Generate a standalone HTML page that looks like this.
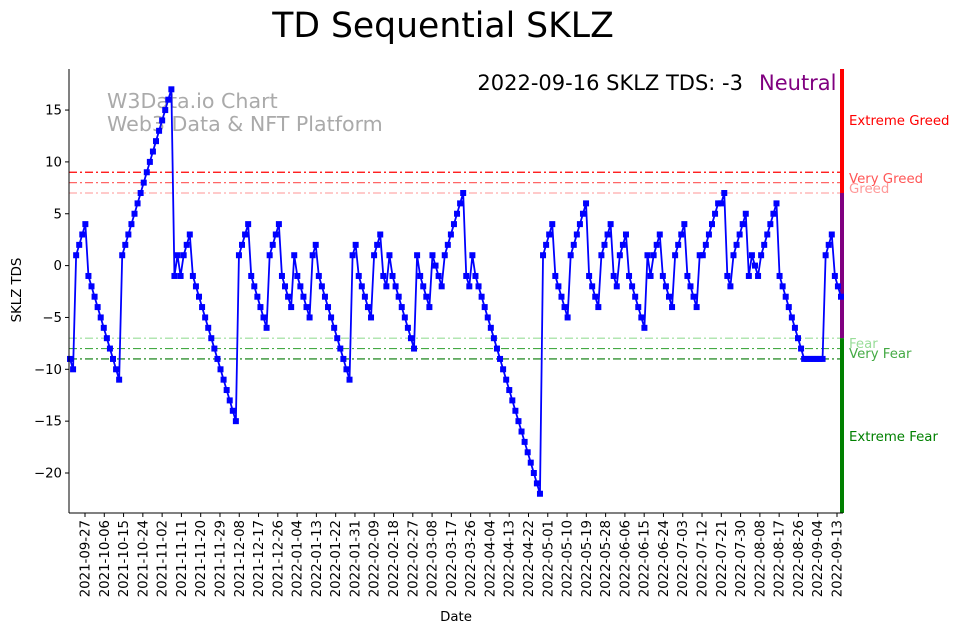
<!DOCTYPE html>
<html><head><meta charset="utf-8"><style>
html,body{margin:0;padding:0;background:#fff;}
svg{display:block;font-family:"DejaVu Sans","Liberation Sans",sans-serif;}
</style></head><body>
<svg id="chart" width="962" height="633" viewBox="0 0 962 633" xmlns="http://www.w3.org/2000/svg">
<text x="443" y="37" font-size="34.6" text-anchor="middle" fill="#000">TD Sequential SKLZ</text>
<text x="107" y="108" font-size="20.6" fill="#aaa">W3Data.io Chart</text>
<text x="107" y="131" font-size="20.6" fill="#aaa">Web3 Data &amp; NFT Platform</text>
<text x="743" y="90" font-size="21" text-anchor="end" fill="#000">2022-09-16 SKLZ TDS: -3</text>
<text x="759" y="90" font-size="21" fill="#800080">Neutral</text>
<g id="levels"></g>
<g id="series"></g>
<g id="axes"></g>
<text x="456" y="621" font-size="13.3" text-anchor="middle">Date</text>
<text transform="translate(21,290) rotate(-90)" font-size="13.3" text-anchor="middle">SKLZ TDS</text>
</svg>
<script>
const values = [-9,-10,1,2,3,4,
-1,-2,-3,-4,-5,-6,-7,-8,-9,-10,-11,
1,2,3,4,5,6,7,8,9,10,11,12,13,14,15,16,17,
-1,1,-1,1,2,3,
-1,-2,-3,-4,-5,-6,-7,-8,-9,-10,-11,-12,-13,-14,-15,
1,2,3,4,-1,-2,-3,-4,-5,-6,1,2,3,4,-1,-2,-3,-4,1,-1,-2,-3,-4,-5,1,2,
-1,-2,-3,-4,-5,-6,-7,-8,-9,-10,-11,1,2,-1,-2,-3,-4,-5,1,2,3,-1,-2,1,
-1,-2,-3,-4,-5,-6,-7,-8,1,-1,-2,-3,-4,1,0,-1,-2,1,2,3,4,5,6,7,-1,-2,1,
-1,-2,-3,-4,-5,-6,-7,-8,-9,-10,-11,-12,-13,-14,-15,-16,-17,-18,-19,-20,-21,-22,
1,2,3,4,-1,-2,-3,-4,-5,1,2,3,4,5,6,-1,-2,-3,-4,1,2,3,4,-1,-2,1,2,3,
-1,-2,-3,-4,-5,-6,1,-1,1,2,3,-1,-2,-3,-4,1,2,3,4,-1,-2,-3,-4,1,1,2,3,4,5,6,6,7,
-1,-2,1,2,3,4,5,-1,1,0,-1,1,2,3,4,5,6,
-1,-2,-3,-4,-5,-6,-7,-8,-9,-9,-9,-9,-9,-9,-9,1,2,3,-1,-2,-3];
const yTicks = [15,10,5,0,-5,-10,-15,-20];
const xTickLabels = ["2021-09-27","2021-10-06","2021-10-15","2021-10-24","2021-11-02","2021-11-11","2021-11-20","2021-11-29","2021-12-08","2021-12-17","2021-12-26","2022-01-04","2022-01-13","2022-01-22","2022-01-31","2022-02-09","2022-02-18","2022-02-27","2022-03-08","2022-03-17","2022-03-26","2022-04-04","2022-04-13","2022-04-22","2022-05-01","2022-05-10","2022-05-19","2022-05-28","2022-06-06","2022-06-15","2022-06-24","2022-07-03","2022-07-12","2022-07-21","2022-07-30","2022-08-08","2022-08-17","2022-08-26","2022-09-04","2022-09-13"];
const levelValues = [9,8,7,-7,-8,-9];
const levelColors = ["#ff0000","#ff6666","#ffaaaa","#99dd99","#44aa44","#007700"];

const NS="http://www.w3.org/2000/svg";
const L=69,R=843,T=69,B=513;
const y=v=>265.6-v*10.37;
const x=i=>70+i*(841-70)/(values.length-1);
const tx=k=>85+k*(752/(xTickLabels.length-1));
function mk(tag,attrs,parent){const e=document.createElementNS(NS,tag);for(const k in attrs)e.setAttribute(k,attrs[k]);parent.appendChild(e);return e;}
const lev=document.getElementById('levels'),ser=document.getElementById('series'),ax=document.getElementById('axes');

levelValues.forEach((v,i)=>{
  const ln=mk('line',{x1:L,x2:R,y1:y(v),y2:y(v),stroke:levelColors[i],'stroke-width':1.2,'stroke-dasharray':'8,3,2,3'},lev);
  
  
});
[[T,y(7),"#ff0000","greed-zone-bar"],[y(7),y(-7),"#800080","neutral-zone-bar"],[y(-7),B,"#008000","fear-zone-bar"]].forEach(z=>{
  const r=mk('rect',{x:840,y:z[0],width:4,height:z[1]-z[0],fill:z[2]},lev);
  
  
});
[["Extreme Greed",125,"#ff0000"],["Very Greed",183,"#ff5555"],["Greed",193,"#ff9999"],["Fear",348,"#99dd99"],["Very Fear",358,"#44aa44"],["Extreme Fear",441,"#008000"]].forEach(t=>{
  const e=mk('text',{x:849,y:t[1],'font-size':13.3,fill:t[2]},lev);e.textContent=t[0];
  
  
});

const pts=values.map((v,i)=>x(i).toFixed(2)+','+y(v).toFixed(2)).join(' ');
const pl=mk('polyline',{points:pts,fill:'none',stroke:'#0000ff','stroke-width':1.8},ser);


values.forEach((v,i)=>{
  const r=mk('rect',{x:x(i)-3,y:y(v)-3,width:6,height:6,fill:'#0000ff'},ser);
  
  
});

const ys=mk('line',{x1:L,x2:L,y1:T,y2:B,stroke:'#000','stroke-width':1},ax);


const xs=mk('line',{x1:L,x2:R,y1:B,y2:B,stroke:'#000','stroke-width':1},ax);


yTicks.forEach(v=>{
  mk('line',{x1:L-4,x2:L,y1:y(v),y2:y(v),stroke:'#000'},ax);
  const t=mk('text',{x:L-7,y:y(v)+4.5,'font-size':13.3,'text-anchor':'end'},ax);t.textContent=v<0?'\u2212'+(-v):v;
  
  
});
xTickLabels.forEach((s,k)=>{
  mk('line',{x1:tx(k),x2:tx(k),y1:B,y2:B+4,stroke:'#000'},ax);
  const t=mk('text',{transform:'translate('+(tx(k)+4.5)+','+(B+7)+') rotate(-90)','font-size':13.3,'text-anchor':'end'},ax);t.textContent=s;
  
  
});
</script>
</body></html>
